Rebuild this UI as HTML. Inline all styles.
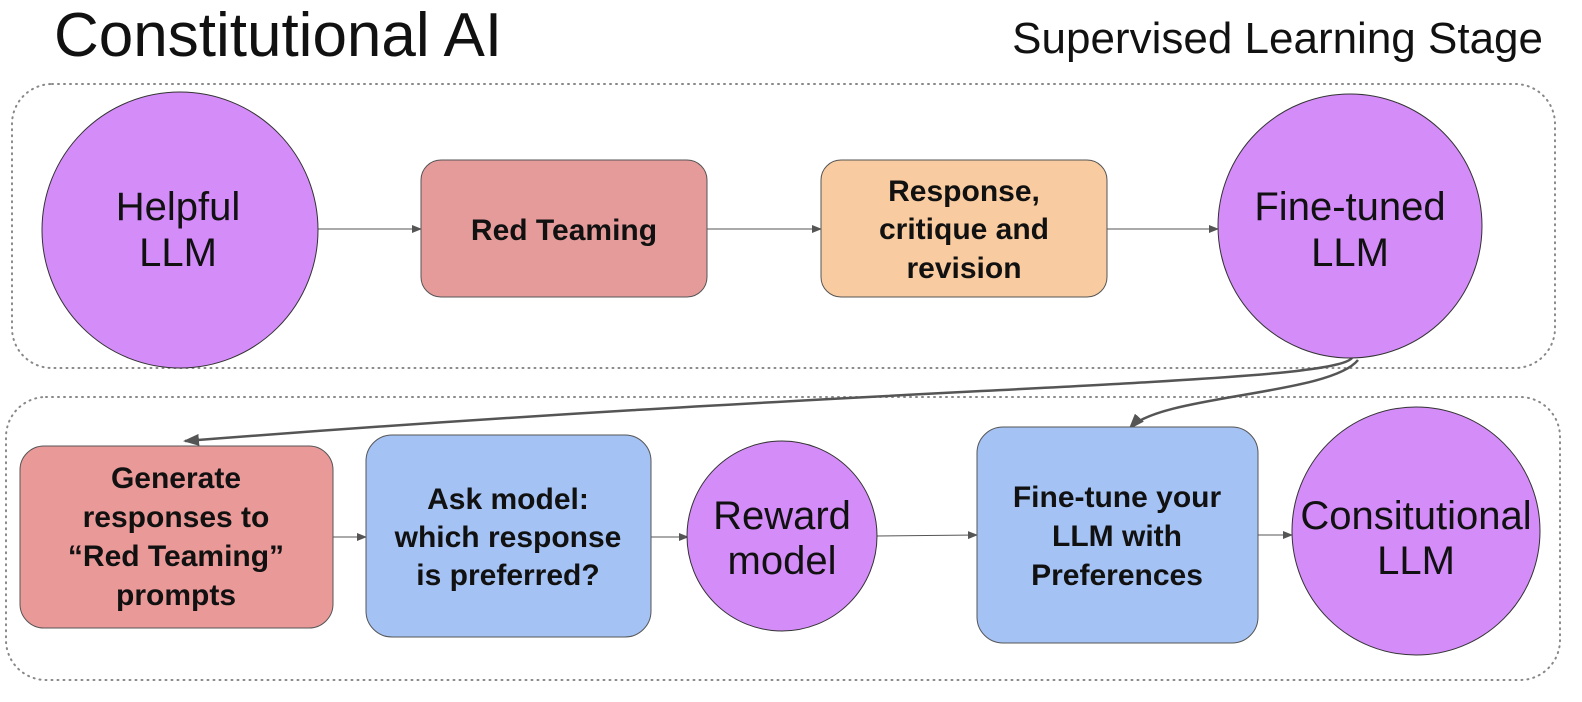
<!DOCTYPE html>
<html><head><meta charset="utf-8"><style>
html,body{margin:0;padding:0;background:#fff;}
svg{display:block;font-family:"Liberation Sans",sans-serif;}
.c{font-size:40px;fill:#111;text-anchor:middle;}
.b{font-size:30px;font-weight:bold;fill:#111;text-anchor:middle;}
</style></head><body>
<svg width="1582" height="702" viewBox="0 0 1582 702">
<defs><marker id="a" markerWidth="10" markerHeight="8" refX="9" refY="4" orient="auto" markerUnits="userSpaceOnUse"><path d="M0,0 L10,4 L0,8 z" fill="#555"/></marker>
<marker id="A" markerWidth="16" markerHeight="12" refX="14" refY="6" orient="auto" markerUnits="userSpaceOnUse"><path d="M0,0 L16,6 L0,12 z" fill="#555"/></marker></defs>
<text x="54" y="56" font-size="62" fill="#111">Constitutional AI</text>
<text x="1543" y="53" font-size="44" fill="#111" text-anchor="end">Supervised Learning Stage</text>
<rect x="12" y="84" width="1543" height="284" rx="40" fill="none" stroke="#888" stroke-width="2" stroke-dasharray="1 5" stroke-linecap="round"/>
<rect x="6" y="397" width="1554" height="283" rx="40" fill="none" stroke="#888" stroke-width="2" stroke-dasharray="1 5" stroke-linecap="round"/>
<line x1="318" y1="229" x2="421" y2="229" stroke="#555" marker-end="url(#a)"/>
<line x1="707" y1="229" x2="821" y2="229" stroke="#555" marker-end="url(#a)"/>
<line x1="1107" y1="229" x2="1218" y2="229" stroke="#555" marker-end="url(#a)"/>
<line x1="333" y1="537" x2="366" y2="537" stroke="#555" marker-end="url(#a)"/>
<line x1="651" y1="537" x2="688" y2="537" stroke="#555" marker-end="url(#a)"/>
<line x1="876" y1="536" x2="977" y2="535" stroke="#555" marker-end="url(#a)"/>
<line x1="1258" y1="535" x2="1292" y2="535" stroke="#555" marker-end="url(#a)"/>
<path d="M1352,358 C1330,385 900,385 185,441" fill="none" stroke="#555" stroke-width="2.5" marker-end="url(#A)"/>
<path d="M1358,360 C1330,395 1160,395 1130,428" fill="none" stroke="#555" stroke-width="2.5" marker-end="url(#A)"/>
<circle cx="180" cy="230" r="138" fill="#d48cf9" stroke="#333" stroke-width="1"/>
<text class="c" x="178" y="220">Helpful</text><text class="c" x="178" y="266">LLM</text>
<rect x="421" y="160" width="286" height="137" rx="20" fill="#e69b9b" stroke="#555"/>
<text class="b" x="564" y="240">Red Teaming</text>
<rect x="821" y="160" width="286" height="137" rx="20" fill="#f8cba0" stroke="#555"/>
<text class="b" x="964" y="201">Response,</text><text class="b" x="964" y="239">critique and</text><text class="b" x="964" y="278">revision</text>
<circle cx="1350" cy="226" r="132" fill="#d48cf9" stroke="#333"/>
<text class="c" x="1350" y="220">Fine-tuned</text><text class="c" x="1350" y="266">LLM</text>
<rect x="20" y="446" width="313" height="182" rx="24" fill="#ea9999" stroke="#555"/>
<text class="b" x="176" y="488">Generate</text><text class="b" x="176" y="527">responses to</text><text class="b" x="176" y="566">“Red Teaming”</text><text class="b" x="176" y="605">prompts</text>
<rect x="366" y="435" width="285" height="202" rx="26" fill="#a4c2f4" stroke="#555"/>
<text class="b" x="508" y="509">Ask model:</text><text class="b" x="508" y="547">which response</text><text class="b" x="508" y="585">is preferred?</text>
<circle cx="782" cy="536" r="95" fill="#d48cf9" stroke="#333"/>
<text class="c" x="782" y="529">Reward</text><text class="c" x="782" y="574">model</text>
<rect x="977" y="427" width="281" height="216" rx="26" fill="#a4c2f4" stroke="#555"/>
<text class="b" x="1117" y="507">Fine-tune your</text><text class="b" x="1117" y="546">LLM with</text><text class="b" x="1117" y="585">Preferences</text>
<circle cx="1416" cy="531" r="124" fill="#d48cf9" stroke="#333"/>
<text class="c" x="1416" y="529">Consitutional</text><text class="c" x="1416" y="574">LLM</text>
</svg>
</body></html>
